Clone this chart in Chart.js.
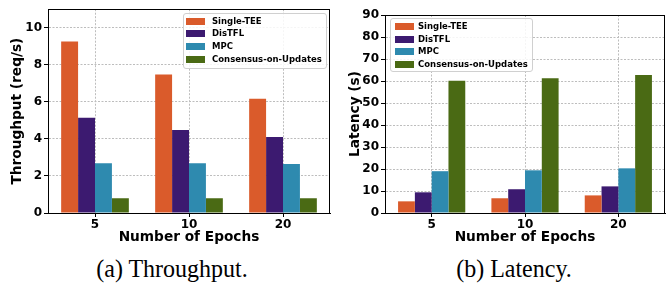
<!DOCTYPE html>
<html>
<head>
<meta charset="utf-8">
<script src="https://cdn.jsdelivr.net/npm/chart.js@4.4.1/dist/chart.umd.min.js"></script>
<style>
  html, body { margin: 0; padding: 0; background: #fff; }
  body { width: 667px; height: 288px; position: relative; overflow: hidden; }
  .panel { position: absolute; top: 0; }
  .legend { position: absolute; box-sizing: border-box; border: 1px solid #d0d0d0; border-radius: 3px;
            background: rgba(255,255,255,0.85); font-family: "DejaVu Sans", sans-serif; font-weight: bold;
            font-size: 8.5px; color: #000; }
  .legend .item { position: absolute; left: 0; height: 13px; line-height: 13px; white-space: nowrap; }
  .legend .sw { position: absolute; top: 3px; width: 19px; height: 7px; }
  .legend .lbl { position: absolute; top: 0; }
  .caption { position: absolute; font-family: "Liberation Serif", "Times New Roman", serif; font-size: 24px;
             line-height: 28px; color: #000; white-space: nowrap; transform: translateX(-50%) scaleY(1.05); }
</style>
</head>
<body>
<div class="panel" style="left:0;width:333px;height:250px;"><canvas id="c1" width="333" height="250"></canvas></div>
<div class="panel" style="left:333px;width:334px;height:250px;"><canvas id="c2" width="334" height="250"></canvas></div>
<div id="leg1" class="legend" style="left:183px;top:13px;width:144px;height:56px;"></div>
<div id="leg2" class="legend" style="left:390px;top:18px;width:143px;height:54px;"></div>
<div class="caption" style="left:172px;top:255px;">(a) Throughput.</div>
<div class="caption" style="left:514px;top:255px;">(b) Latency.</div>
<script>
const categories = ['5', '10', '20'];
const seriesNames = ['Single-TEE', 'DisTFL', 'MPC', 'Consensus-on-Updates'];
const seriesColors = ['#DA5B2B', '#3C1A70', '#2E8AAF', '#4A6A14'];

const throughputSingleTEE = [9.26, 7.47, 6.17];
const throughputDisTFL = [5.14, 4.48, 4.10];
const throughputMPC = [2.69, 2.69, 2.64];
const throughputConsensus = [0.80, 0.80, 0.80];

const latencySingleTEE = [5.3, 6.7, 8.0];
const latencyDisTFL = [9.4, 10.8, 12.1];
const latencyMPC = [19.0, 19.4, 20.3];
const latencyConsensus = [60.1, 61.3, 62.7];

const throughputTicks = [0, 2, 4, 6, 8, 10];
const latencyTicks = [0, 10, 20, 30, 40, 50, 60, 70, 80, 90];

const FONT = 'DejaVu Sans';

const framePlugin = {
  id: 'frame',
  afterDraw(chart) {
    const a = chart.chartArea, ctx = chart.ctx;
    ctx.save();
    ctx.strokeStyle = '#000';
    ctx.lineWidth = 1;
    ctx.strokeRect(Math.round(a.left) + 0.5, Math.round(a.top) + 0.5,
                   Math.round(a.right - a.left) - 1, Math.round(a.bottom - a.top));
    ctx.restore();
  }
};

function makeChart(id, series, yMax, tickVals, yTitle, cfg) {
  const datasets = series.map((d, i) => ({
    label: seriesNames[i], data: d, backgroundColor: seriesColors[i], borderWidth: 0,
    categoryPercentage: 0.72, barPercentage: 1.0
  }));
  return new Chart(document.getElementById(id), {
    type: 'bar',
    data: { labels: categories, datasets },
    plugins: [framePlugin],
    options: {
      responsive: false, animation: false, devicePixelRatio: 1,
      layout: { padding: cfg.padding },
      plugins: { legend: { display: false }, tooltip: { enabled: false } },
      scales: {
        x: {
          z: 1,
          offset: true,
          grid: { offset: false, color: '#bdbdbd', lineWidth: 1, tickColor: '#000', tickLength: 4, tickWidth: 1, tickBorderDash: [] },
          border: { display: true, color: '#000', width: 1, dash: [2, 1.5] },
          ticks: { color: '#000', font: { family: FONT, weight: 'bold', size: 12 }, padding: 1, maxRotation: 0 },
          title: { display: true, text: 'Number of Epochs', color: '#000',
                   font: { family: FONT, weight: 'bold', size: 13.7, lineHeight: 1.2 }, padding: { top: 0, bottom: cfg.xTitlePad } },
          afterFit(s) { s.height = cfg.xHeight; }
        },
        y: {
          z: 1,
          min: 0, max: yMax,
          afterBuildTicks(s) { s.ticks = tickVals.map(v => ({ value: v })); },
          grid: { color: '#bdbdbd', lineWidth: 1, tickColor: '#000', tickLength: 4, tickWidth: 1, tickBorderDash: [] },
          border: { display: true, color: '#000', width: 1, dash: [2, 1.5] },
          ticks: { color: '#000', font: { family: FONT, weight: 'bold', size: 12 }, padding: 2 },
          title: { display: true, text: yTitle, color: '#000',
                   font: { family: FONT, weight: 'bold', size: 13.7, lineHeight: 1.2 }, padding: { top: cfg.yTitlePad, bottom: 0 } },
          afterFit(s) { s.width = cfg.yWidth; }
        }
      }
    }
  });
}

makeChart('c1', [throughputSingleTEE, throughputDisTFL, throughputMPC, throughputConsensus], 11, throughputTicks,
  'Throughput (req/s)', { padding: { top: 9, right: 3, left: 0, bottom: 0 }, xHeight: 37, yWidth: 48, yTitlePad: 9, xTitlePad: 4 });
makeChart('c2', [latencySingleTEE, latencyDisTFL, latencyMPC, latencyConsensus], 90, latencyTicks,
  'Latency (s)', { padding: { top: 15, right: 2, left: 0, bottom: 0 }, xHeight: 37, yWidth: 52, yTitlePad: 14, xTitlePad: 4 });

function buildLegend(id, x0, textX, rowTops) {
  const el = document.getElementById(id);
  seriesNames.forEach((n, i) => {
    const it = document.createElement('div');
    it.className = 'item';
    it.style.top = rowTops[i] + 'px';
    it.innerHTML = '<span class="sw" style="left:' + x0 + 'px;background:' + seriesColors[i] + '"></span>' +
                   '<span class="lbl" style="left:' + textX + 'px">' + n + '</span>';
    el.appendChild(it);
  });
}
buildLegend('leg1', 2, 28, [0.5, 13.3, 26, 38.7]);
buildLegend('leg2', 4, 27, [0.5, 13.5, 26.3, 39.3]);
</script>
</body>
</html>
